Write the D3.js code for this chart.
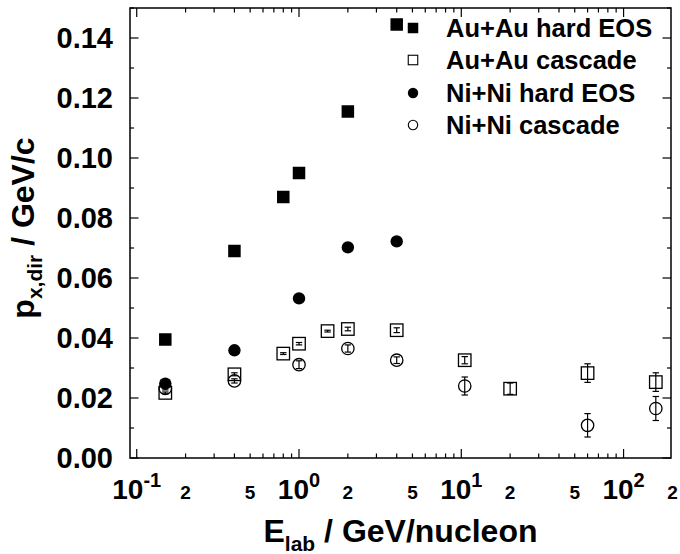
<!DOCTYPE html>
<html><head><meta charset="utf-8">
<script src="https://cdn.jsdelivr.net/npm/d3@7"></script>
<style>
body{margin:0;background:#fff}
svg{display:block}
text{font-family:"Liberation Sans",Arial,Helvetica,sans-serif;font-weight:bold;fill:#000}
</style>
</head><body>
<svg id="c" width="680" height="554"></svg>
<script>
// ---- data (E_lab in GeV/nucleon, p_x,dir in GeV/c) ----
const auHardE = [0.15, 0.4, 0.8, 1.0, 2.0, 4.0];
const auHardP = [0.0395, 0.069, 0.087, 0.095, 0.1155, 0.1445];

const auCascE = [0.15, 0.4, 0.8, 1.0, 1.5, 2.0, 4.0, 10.5, 20, 60, 158];
const auCascP = [0.0217, 0.0279, 0.0348, 0.0381, 0.0423, 0.0430, 0.0426, 0.0326, 0.0231, 0.0283, 0.0253];
const auCascErr = [0.0003, 0.0005, 0.0003, 0.0004, 0.0003, 0.0006, 0.0008, 0.0012, 0.0019, 0.0031, 0.0031];

const niHardE = [0.15, 0.4, 1.0, 2.0, 4.0];
const niHardP = [0.0248, 0.0359, 0.0532, 0.0702, 0.0722];

const niCascE = [0.15, 0.4, 1.0, 2.0, 4.0, 10.5, 60, 158];
const niCascP = [0.0232, 0.0257, 0.0311, 0.0365, 0.0326, 0.024, 0.0109, 0.0165];
const niCascErr = [0.0005, 0.0007, 0.0013, 0.0012, 0.0011, 0.003, 0.0039, 0.004];

const legendLabels = ["Au+Au hard EOS", "Au+Au cascade", "Ni+Ni hard EOS", "Ni+Ni cascade"];
const xMajorTicks = [0.1, 1, 10, 100];
const xMajorExp = ["-1", "0", "1", "2"];
const xMinorLabelVals = [0.2, 0.5, 2, 5, 20, 50, 200];
const xMinorLabels = ["2", "5", "2", "5", "2", "5", "2"];
const yTickVals = [0, 0.02, 0.04, 0.06, 0.08, 0.10, 0.12, 0.14];

// ---- scales ----
const svg = d3.select("#c");
const x = d3.scaleLog().domain([0.0909, 196]).range([130, 671]);
const y = d3.scaleLinear().domain([0, 0.15]).range([458, 8]);
const [xL, xR] = x.range();
const [yB, yT] = y.range();

// ---- frame ----
svg.append("rect").attr("x", xL).attr("y", yT).attr("width", xR - xL).attr("height", yB - yT)
  .attr("fill", "none").attr("stroke", "#000").attr("stroke-width", 1.5);

const tickG = svg.append("g").attr("stroke", "#000").attr("stroke-width", 1.2);
// x ticks (bottom & top, inward)
x.ticks().filter(v => v >= x.domain()[0] && v <= x.domain()[1]).forEach(v => {
  const major = Math.abs(Math.log10(v) - Math.round(Math.log10(v))) < 1e-9;
  const len = major ? 9 : 4.5;
  const px = x(v);
  tickG.append("line").attr("x1", px).attr("x2", px).attr("y1", yB).attr("y2", yB - len);
  tickG.append("line").attr("x1", px).attr("x2", px).attr("y1", yT).attr("y2", yT + len);
});
// y ticks (left & right, inward)
y.ticks(15).forEach((v, i) => {
  const major = i % 2 === 0;
  const len = major ? 8.5 : 4;
  const py = y(v);
  tickG.append("line").attr("x1", xL).attr("x2", xL + len).attr("y1", py).attr("y2", py);
  tickG.append("line").attr("x1", xR).attr("x2", xR - len).attr("y1", py).attr("y2", py);
});

// ---- tick labels ----
svg.append("g").selectAll("text").data(yTickVals).join("text")
  .attr("x", 113).attr("y", d => y(d)).attr("dy", "0.36em")
  .attr("text-anchor", "end").attr("font-size", 29)
  .text(d => d3.format(".2f")(d));

const xl = svg.append("g");
xMajorTicks.forEach((v, i) => {
  const t = xl.append("text").attr("x", x(v)).attr("y", 499).attr("text-anchor", "middle").attr("font-size", 28);
  t.append("tspan").text("10");
  t.append("tspan").attr("font-size", 20).attr("dy", -12).text(xMajorExp[i]);
});
xMinorLabelVals.forEach((v, i) => {
  xl.append("text").attr("x", x(v)).attr("y", 499).attr("text-anchor", "middle").attr("font-size", 19).text(xMinorLabels[i]);
});

// ---- axis titles ----
const xt = svg.append("text").attr("x", (xL + xR) / 2).attr("y", 541.5).attr("text-anchor", "middle").attr("font-size", 32);
xt.append("tspan").text("E");
xt.append("tspan").attr("font-size", 21).attr("dy", 9).text("lab");
xt.append("tspan").attr("dy", -9).text(" / GeV/nucleon");

const yt = svg.append("text").attr("transform", "translate(33.5," + 228 + ") rotate(-90)").attr("text-anchor", "middle").attr("font-size", 32);
yt.append("tspan").text("p");
yt.append("tspan").attr("font-size", 21).attr("dy", 8).text("x,dir");
yt.append("tspan").attr("dy", -8).text(" / GeV/c");

// ---- markers ----
const S = 12.5, R = 6.2, CAP = 3.2;
const g = svg.append("g");
function errBars(E, P, Err) {
  E.forEach((e, i) => {
    const px = x(e), y1 = y(P[i] - Err[i]), y2 = y(P[i] + Err[i]);
    g.append("line").attr("x1", px).attr("x2", px).attr("y1", y1).attr("y2", y2).attr("stroke", "#000").attr("stroke-width", 1.2);
    [y1, y2].forEach(yy => g.append("line").attr("x1", px - CAP).attr("x2", px + CAP).attr("y1", yy).attr("y2", yy).attr("stroke", "#000").attr("stroke-width", 1.2));
  });
}
// Au+Au cascade: open squares
auCascE.forEach((e, i) => g.append("rect").attr("x", x(e) - S / 2).attr("y", y(auCascP[i]) - S / 2).attr("width", S).attr("height", S)
  .attr("fill", "none").attr("stroke", "#000").attr("stroke-width", 1.3));
errBars(auCascE, auCascP, auCascErr);
// Ni+Ni cascade: open circles
niCascE.forEach((e, i) => g.append("circle").attr("cx", x(e)).attr("cy", y(niCascP[i])).attr("r", R)
  .attr("fill", "none").attr("stroke", "#000").attr("stroke-width", 1.3));
errBars(niCascE, niCascP, niCascErr);
// Ni+Ni hard EOS: filled circles
niHardE.forEach((e, i) => g.append("circle").attr("cx", x(e)).attr("cy", y(niHardP[i])).attr("r", R).attr("fill", "#000"));
// Au+Au hard EOS: filled squares
auHardE.forEach((e, i) => g.append("rect").attr("x", x(e) - S / 2).attr("y", y(auHardP[i]) - S / 2).attr("width", S).attr("height", S).attr("fill", "#000"));

// ---- legend ----
const lg = svg.append("g");
const rowsY = [28, 60, 93, 125];
const mx = 413, LS = 10.5, LR = 5.2;
lg.append("rect").attr("x", mx - LS / 2).attr("y", rowsY[0] - LS / 2).attr("width", LS).attr("height", LS).attr("fill", "#000");
lg.append("rect").attr("x", mx - LS / 2 + 0.5).attr("y", rowsY[1] - LS / 2 + 0.5).attr("width", LS - 1).attr("height", LS - 1).attr("fill", "none").attr("stroke", "#000").attr("stroke-width", 1.1);
lg.append("circle").attr("cx", mx).attr("cy", rowsY[2]).attr("r", LR).attr("fill", "#000");
lg.append("circle").attr("cx", mx).attr("cy", rowsY[3]).attr("r", LR - 0.5).attr("fill", "none").attr("stroke", "#000").attr("stroke-width", 1.1);
legendLabels.forEach((t, i) => lg.append("text").attr("x", 446).attr("y", rowsY[i]).attr("dy", "0.36em").attr("font-size", 25.5).text(t));
</script>
</body></html>
